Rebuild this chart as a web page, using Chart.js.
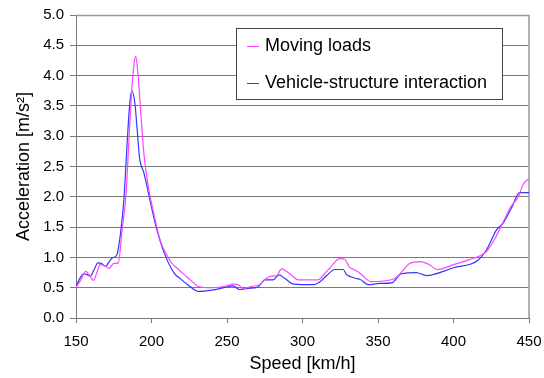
<!DOCTYPE html>
<html>
<head>
<meta charset="utf-8">
<script src="https://cdn.jsdelivr.net/npm/chart.js@4/dist/chart.umd.min.js"></script>
<style>
  html, body { margin: 0; padding: 0; background: #fff; }
  #wrap { width: 544px; height: 378px; }
</style>
</head>
<body>
<div id="wrap"><canvas id="accChart" width="544" height="378"></canvas></div>
<script>
// values
var seriesNames = ["Moving loads", "Vehicle-structure interaction"];
var xTicks = [150, 200, 250, 300, 350, 400, 450];

var speedML = [150, 153, 156.5, 159, 161.5, 164, 166, 169, 172, 175, 178, 180.5, 183, 185, 187, 188.5, 189.5, 191, 193, 195, 198, 202, 206, 210, 213, 218, 222, 227, 231, 240, 248, 255, 258, 260.5, 266, 271.5, 276, 279, 283, 286, 290, 293, 297, 310, 316, 320, 324.5, 328, 331, 334, 338, 342, 345, 360, 366, 371, 378, 384, 389, 400, 410, 416, 422, 427, 433, 438, 443, 446, 450];
var accelML = [0.50, 0.62, 0.77, 0.70, 0.62, 0.76, 0.88, 0.86, 0.82, 0.90, 0.91, 1.45, 2.00, 2.90, 3.80, 4.20, 4.32, 4.05, 3.35, 2.70, 2.15, 1.67, 1.26, 1.05, 0.92, 0.80, 0.71, 0.60, 0.52, 0.50, 0.52, 0.56, 0.54, 0.48, 0.52, 0.55, 0.65, 0.69, 0.70, 0.81, 0.76, 0.70, 0.63, 0.63, 0.77, 0.88, 0.98, 0.97, 0.84, 0.80, 0.74, 0.65, 0.60, 0.64, 0.77, 0.90, 0.93, 0.88, 0.80, 0.88, 0.96, 1.01, 1.10, 1.29, 1.59, 1.84, 2.00, 2.20, 2.30];

var speedVSI = [150, 152.5, 155, 157, 159.5, 162, 164.5, 167, 169.5, 172, 174, 177, 179.5, 181.7, 184, 185.6, 187, 189, 190.7, 192, 195, 198.5, 203, 208.5, 215, 219, 224, 231, 240, 248, 254, 258.3, 264, 270.5, 275, 280.5, 284.5, 288, 294, 307, 311.6, 316, 321.5, 327, 329, 332, 336, 338, 343.5, 351, 359, 365.5, 375.4, 382, 400, 416, 422, 428.4, 433, 438.3, 443.8, 450];
var accelVSI = [0.52, 0.65, 0.73, 0.72, 0.69, 0.80, 0.91, 0.90, 0.85, 0.93, 0.99, 1.04, 1.40, 1.95, 2.94, 3.54, 3.75, 3.54, 3.05, 2.66, 2.39, 2.00, 1.51, 1.07, 0.74, 0.65, 0.55, 0.44, 0.46, 0.50, 0.53, 0.47, 0.49, 0.51, 0.63, 0.63, 0.71, 0.66, 0.56, 0.55, 0.60, 0.70, 0.80, 0.80, 0.72, 0.68, 0.65, 0.64, 0.55, 0.57, 0.58, 0.73, 0.75, 0.70, 0.83, 0.95, 1.13, 1.45, 1.57, 1.81, 2.07, 2.07];

function toPoints(xs, ys) {
    var pts = [];
    for (var i = 0; i < xs.length; i++) pts.push({x: xs[i], y: ys[i]});
    return pts;
}

var FONT = "'Liberation Sans', Arial, sans-serif";
var GRID = "#7a7a7a";

// white page, frame round the plot area
var framePlugin = {
    id: "frame",
    beforeDraw: function(chart) {
        var c = chart.ctx;
        c.save();
        c.fillStyle = "#fff";
        c.fillRect(0, 0, chart.width, chart.height);
        c.restore();
    },
    beforeDatasetsDraw: function(chart) {
        var a = chart.chartArea, c = chart.ctx;
        c.save();
        c.strokeStyle = "#999";
        c.lineWidth = 1.5;
        c.beginPath();
        c.moveTo(a.left, a.top + 0.5);
        c.lineTo(a.right, a.top + 0.5);
        c.lineTo(a.right, a.bottom);
        c.stroke();
        c.restore();
    }
};

// boxed legend inside the plot, like the original
var boxLegend = {
    id: "boxLegend",
    afterDraw: function(chart) {
        var c = chart.ctx;
        var x0 = 236, y0 = 28, w = 266, h = 71;
        c.save();
        c.fillStyle = "#fff";
        c.fillRect(x0, y0, w, h);
        c.strokeStyle = "#444";
        c.lineWidth = 1;
        c.strokeRect(x0 + 0.5, y0 + 0.5, w, h);
        c.font = "18px " + FONT;
        c.textBaseline = "middle";
        chart.data.datasets.forEach(function(ds, i) {
            var y = 46 + i * 37;
            c.strokeStyle = ds.borderColor;
            c.lineWidth = 1;
            c.beginPath();
            c.moveTo(247, y + 0.5);
            c.lineTo(259, y + 0.5);
            c.stroke();
            c.fillStyle = "#000";
            c.fillText(ds.label, 265, y);
        });
        c.restore();
    }
};

new Chart(document.getElementById("accChart"), {
    type: "line",
    data: {
        datasets: [{
            label: seriesNames[0],
            data: toPoints(speedML, accelML),
            borderColor: "#ff44ff",
            borderWidth: 1.2,
            pointRadius: 0,
            cubicInterpolationMode: "monotone",
            fill: false
        }, {
            label: seriesNames[1],
            data: toPoints(speedVSI, accelVSI),
            borderColor: "#3535ff",
            borderWidth: 1.2,
            pointRadius: 0,
            cubicInterpolationMode: "monotone",
            fill: false
        }]
    },
    options: {
        responsive: false,
        animation: false,
        layout: { padding: { top: 15, right: 15, left: 0, bottom: 0 } },
        plugins: {
            legend: { display: false },
            tooltip: { enabled: false }
        },
        scales: {
            x: {
                type: "linear",
                min: 150,
                max: 450,
                afterBuildTicks: function(s) {
                    s.ticks = xTicks.map(function(v) { return {value: v}; });
                },
                afterFit: function(s) {
                    s.height = 60;
                    s.paddingLeft = 0;
                    s.paddingRight = 0;
                },
                grid: { drawOnChartArea: false, drawTicks: true, tickLength: 5, color: GRID },
                border: { color: GRID, width: 1 },
                ticks: { color: "#000", font: { family: FONT, size: 15 }, padding: 10, maxRotation: 0 },
                title: { display: true, text: "Speed [km/h]", color: "#000", font: { family: FONT, size: 18 }, padding: { top: 0, bottom: 3 } }
            },
            y: {
                min: 0,
                max: 5,
                afterFit: function(s) {
                    s.width = 76;
                    s.paddingTop = 0;
                    s.paddingBottom = 0;
                },
                grid: { color: GRID, tickLength: 6, lineWidth: 1 },
                border: { color: GRID, width: 1 },
                ticks: {
                    stepSize: 0.5,
                    color: "#000",
                    font: { family: FONT, size: 15 },
                    padding: 6,
                    callback: function(v) { return Number(v).toFixed(1); }
                },
                title: { display: true, text: "Acceleration [m/s²]", color: "#000", font: { family: FONT, size: 18 }, padding: { top: 13, bottom: 0 } }
            }
        }
    },
    plugins: [framePlugin, boxLegend]
});
</script>
</body>
</html>
